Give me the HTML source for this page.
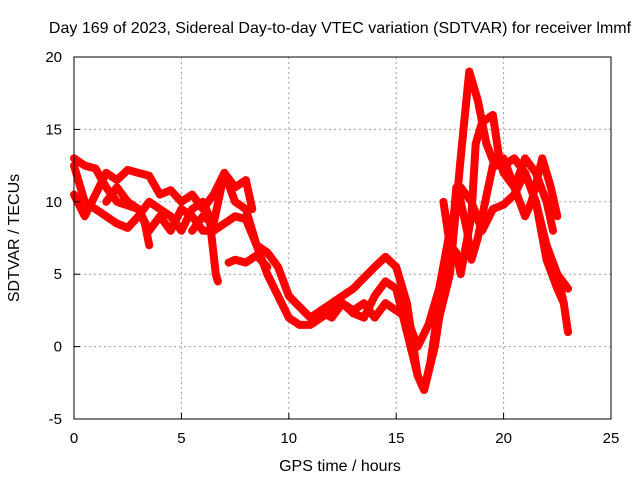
<!DOCTYPE html>
<html><head><meta charset="utf-8"><style>
body{margin:0;background:#fff}
svg{display:block;font-family:"Liberation Sans",sans-serif}
</style></head><body>
<svg id="chart" width="640" height="480">
<text x="340" y="33" font-size="16" text-anchor="middle">Day 169 of 2023, Sidereal Day-to-day VTEC variation (SDTVAR) for receiver lmmf</text>
<text x="340" y="471" font-size="16" text-anchor="middle">GPS time / hours</text>
<text transform="translate(19,238) rotate(-90)" font-size="16" text-anchor="middle">SDTVAR / TECUs</text>
<g id="grid"></g>
<g id="series"></g>
<rect x="74" y="57" width="537" height="362" fill="none" stroke="#000" stroke-width="1"/>
<g id="ticks"></g>
</svg>
<script>
const xTicks=[0,5,10,15,20,25];
const yTicks=[-5,0,5,10,15,20];
const s1=[[0,13],[0.5,12.5],[1,12.3],[1.5,11],[2,10],[3,9.5],[3.5,8],[4,9],[4.5,8],[5,9.5],[5.5,9],[6,8],[6.5,8],[7,8.5],[7.5,9],[8,8.8],[8.5,7],[9,5],[9.5,3.5],[10,2],[10.5,1.5],[11,1.5],[11.5,2],[12,2.5],[12.5,3],[13,2.5],[13.5,3],[14,2],[14.5,3],[15,2.5],[15.5,2],[16,0],[16.5,1.5],[17,4],[17.5,8],[18,11],[18.5,10],[19,8],[19.5,9.5],[20,9.8],[20.5,10.5],[21,12],[21.5,10],[22,7],[22.5,5],[23,4]];
const s2=[[0,10.5],[0.5,9],[1,10.5],[1.5,12],[2,11.5],[2.5,12.2],[3,12],[3.5,11.8],[4,10.5],[4.5,10.8],[5,10],[5.5,10.5],[6,9.5],[6.5,10.5],[7,12],[7.5,10],[8,9.5],[8.5,7],[9,6.5],[9.5,5.5],[10,3.5],[11,2],[12,3],[13,4],[14,5.5],[14.5,6.2],[15,5.5],[15.5,3],[16,-2],[16.3,-3],[16.8,0],[17,2],[17.5,5],[18,13],[18.4,19],[18.8,17],[19.2,14],[19.6,12.5],[20,12.5],[20.5,13],[21,12],[21.5,10],[22,6],[22.5,4],[22.8,3]];
const s3=[[0,12.5],[0.5,10],[1,9.5],[2,8.5],[2.5,8.2],[3,9],[3.5,10],[4,9.5],[4.5,9],[5,8],[5.5,9.5],[6,10],[6.3,9],[6.6,5],[6.7,4.5]];
const s4=[[1.5,10],[2,11],[2.5,10],[3,9.5],[3.3,8.5],[3.5,7]];
const s5=[[5.5,8],[6,9],[6.5,8.5],[7,12],[7.5,11],[8,11.5],[8.3,9.5]];
const s6=[[7.2,5.8],[7.5,6],[8,5.8],[8.5,6.3],[9,5.5]];
const s7=[[11.5,2.5],[12,2],[12.5,3],[13,2.3],[13.5,2],[14,3.5],[14.5,4.5],[15,4],[15.5,1],[16,-2],[16.3,-3],[16.6,-1],[17,3],[17.5,6],[17.8,11],[18,10],[18.3,8],[18.5,6],[18.8,7.5],[19,9],[19.5,12.5],[20,13],[20.5,11],[21,13],[21.5,12],[22,10],[22.3,8]];
const s8=[[17.2,10],[17.5,7],[17.8,6.5],[18,5],[18.5,9],[18.7,14],[19,15.5],[19.5,16],[19.8,13],[20,12],[20.5,11],[21,9],[21.3,10],[21.8,13],[22.2,11],[22.5,9]];
const s9=[[22.5,5],[22.8,3],[23,1]];
const allSeries=[s1,s2,s3,s4,s5,s6,s7,s8,s9];
const X=t=>74+t*(537/25);
const Y=v=>57+(20-v)*(362/25);
const NS="http://www.w3.org/2000/svg";
const grid=document.getElementById('grid'),ticks=document.getElementById('ticks'),ser=document.getElementById('series');
function mk(tag,at,parent){const e=document.createElementNS(NS,tag);for(const k in at)e.setAttribute(k,at[k]);parent.appendChild(e);return e;}
xTicks.forEach(t=>{
  if(t>0&&t<25){const l=mk('line',{x1:X(t),x2:X(t),y1:57,y2:419,stroke:'#a0a0a0','stroke-dasharray':'2,3'},grid);
  
  }
  const tk=mk('line',{x1:X(t),x2:X(t),y1:419,y2:413,stroke:'#000'},ticks);
  
  
  const tx=mk('text',{x:X(t),y:443,'font-size':15,'text-anchor':'middle'},ticks);tx.textContent=t;
  
  
});
yTicks.forEach(v=>{
  if(v>-5&&v<20){const l=mk('line',{x1:74,x2:611,y1:Y(v),y2:Y(v),stroke:'#a0a0a0','stroke-dasharray':'2,3'},grid);
  
  }
  const tk=mk('line',{x1:74,x2:80,y1:Y(v),y2:Y(v),stroke:'#000'},ticks);
  
  
  const tx=mk('text',{x:62,y:Y(v)+5,'font-size':15,'text-anchor':'end'},ticks);tx.textContent=v;
  
  
});
allSeries.forEach((s,i)=>{
  const p=mk('polyline',{points:s.map(d=>X(d[0])+','+Y(d[1])).join(' '),fill:'none',stroke:'#ff0000','stroke-width':8,'stroke-linejoin':'round','stroke-linecap':'round'},ser);
  
  
});
</script>
</body></html>
